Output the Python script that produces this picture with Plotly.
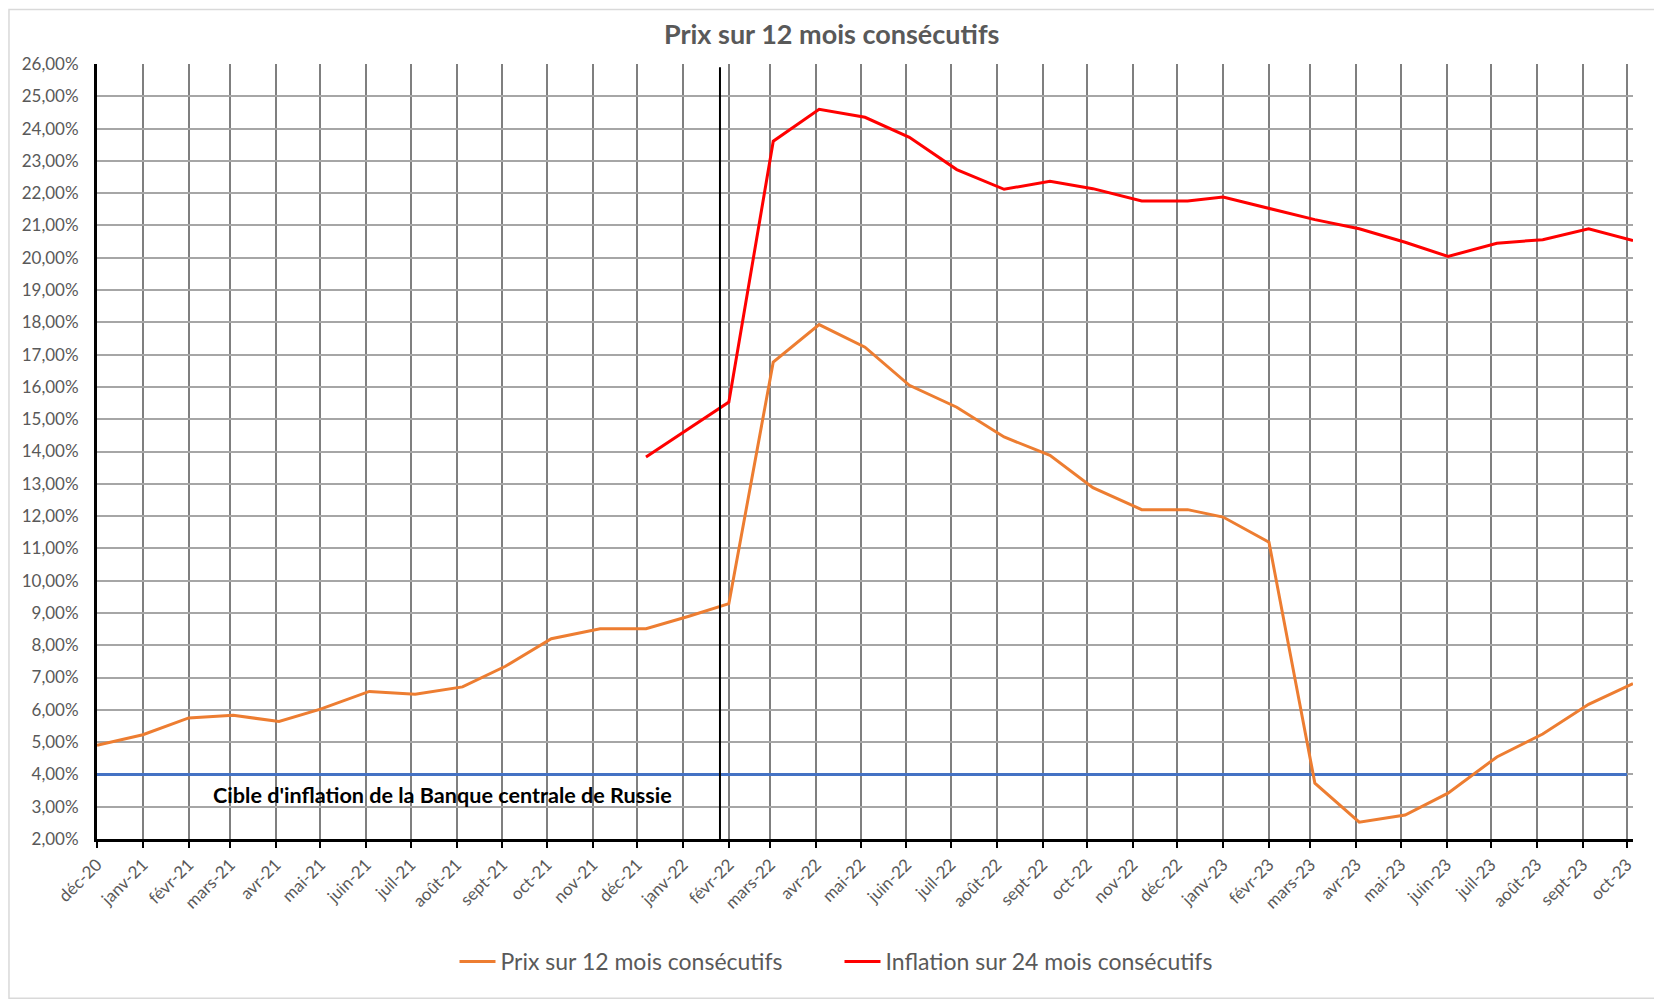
import plotly.graph_objects as go
import pandas as pd

# ---- Data ----
dates = ["2020-12-01", "2021-01-01", "2021-02-01", "2021-03-03", "2021-04-03", "2021-05-01",
         "2021-06-03", "2021-07-04", "2021-08-05", "2021-09-03", "2021-10-04", "2021-11-06",
         "2021-12-07", "2022-01-05", "2022-02-01", "2022-03-03", "2022-04-03", "2022-05-04",
         "2022-06-03", "2022-07-05", "2022-08-06", "2022-09-06", "2022-10-05", "2022-11-07",
         "2022-12-08", "2023-01-01", "2023-02-01", "2023-03-04", "2023-04-03", "2023-05-04",
         "2023-06-02", "2023-07-05", "2023-08-05", "2023-09-05", "2023-10-05"]

prix_12m = [4.90, 5.23, 5.75, 5.83, 5.64, 6.02, 6.57, 6.48, 6.71, 7.35, 8.20, 8.51,
            8.51, 8.90, 9.29, 16.77, 17.93, 17.23, 16.05, 15.37, 14.45, 13.88, 12.88, 12.20,
            12.20, 11.97, 11.19, 3.73, 2.52, 2.74, 3.42, 4.54, 5.25, 6.17, 6.81]

infl_24m = [None] * 12 + [13.83, 14.70, 15.53, 23.61, 24.60, 24.35, 23.73, 22.73, 22.12,
                          22.37, 22.14, 21.76, 21.76, 21.88, 21.52, 21.18, 20.90, 20.48,
                          20.04, 20.45, 20.56, 20.90, 20.53]

cible_dates = ["2020-12-01", "2023-10-01"]
cible = [4.0, 4.0]

marker_line_date = "2022-01-26"

tick_labels = ["déc-20", "janv-21", "févr-21", "mars-21", "avr-21", "mai-21", "juin-21",
               "juil-21", "août-21", "sept-21", "oct-21", "nov-21", "déc-21", "janv-22",
               "févr-22", "mars-22", "avr-22", "mai-22", "juin-22", "juil-22", "août-22",
               "sept-22", "oct-22", "nov-22", "déc-22", "janv-23", "févr-23", "mars-23",
               "avr-23", "mai-23", "juin-23", "juil-23", "août-23", "sept-23", "oct-23"]
tick_dates = list(pd.date_range("2020-12-01", periods=len(tick_labels), freq="MS"))

FONT = "Lato, Carlito, Calibri, sans-serif"
GRAY = "#595959"

fig = go.Figure()
fig.add_trace(go.Scatter(x=cible_dates, y=cible, mode="lines",
                         line=dict(color="#4472C4", width=3), showlegend=False,
                         hoverinfo="skip"))
fig.add_trace(go.Scatter(x=dates, y=prix_12m, mode="lines",
                         name="Prix sur 12 mois consécutifs",
                         line=dict(color="#ED7D31", width=3)))
fig.add_trace(go.Scatter(x=dates, y=infl_24m, mode="lines",
                         name="Inflation sur 24 mois consécutifs",
                         line=dict(color="#FF0000", width=3), connectgaps=False))

# vertical black line
fig.add_shape(type="line", xref="x", yref="y", x0=marker_line_date, x1=marker_line_date,
              y0=2, y1=25.9, line=dict(color="black", width=2), layer="above")

# chart border
fig.add_shape(type="rect", xref="paper", yref="paper",
              x0=-0.0573, x1=1.0176, y0=-0.2055, y1=1.0703,
              line=dict(color="#d9d9d9", width=1.5), layer="below")

fig.add_annotation(x="2021-02-16", y=3.35, xref="x", yref="y",
                   text="<b>Cible d'inflation de la Banque centrale de Russie</b>",
                   showarrow=False, xanchor="left", yanchor="middle",
                   font=dict(family=FONT, size=21.6, color="black"))

fig.update_layout(
    width=1654, height=992,
    margin=dict(l=89, r=29, t=56, b=161),
    paper_bgcolor="white", plot_bgcolor="white",
    separators=", ",
    title=dict(text="<b>Prix sur 12 mois consécutifs</b>", x=0.498, xref="container",
               xanchor="center", y=0.973, yanchor="middle",
               font=dict(family=FONT, size=27, color=GRAY)),
    font=dict(family=FONT, color=GRAY),
    legend=dict(orientation="h", x=0.4834, xanchor="center", y=-0.158, yanchor="middle",
                font=dict(family=FONT, size=23, color=GRAY), itemwidth=36,
                entrywidth=334, entrywidthmode="pixels", tracegroupgap=0),
    showlegend=True,
)

fig.update_xaxes(
    type="date", range=[dates[0], dates[-1]],
    tickmode="array", tickvals=tick_dates, ticktext=tick_labels,
    tickangle=-45, tickfont=dict(family=FONT, size=17, color=GRAY),
    showgrid=True, gridcolor="#7f7f7f", gridwidth=1.5,
    showline=True, linecolor="black", linewidth=3,
    ticks="outside", ticklen=6, tickwidth=2, tickcolor="black",
    zeroline=False,
)
fig.update_yaxes(
    range=[2, 26], tickmode="linear", tick0=2, dtick=1,
    tickformat=".2f", ticksuffix="%",
    tickfont=dict(family=FONT, size=17, color=GRAY),
    showgrid=True, gridcolor="#a6a6a6", gridwidth=1.5,
    showline=True, linecolor="black", linewidth=3,
    ticks="", ticklabelstandoff=12, zeroline=False,
)

fig.write_html("out.html")
